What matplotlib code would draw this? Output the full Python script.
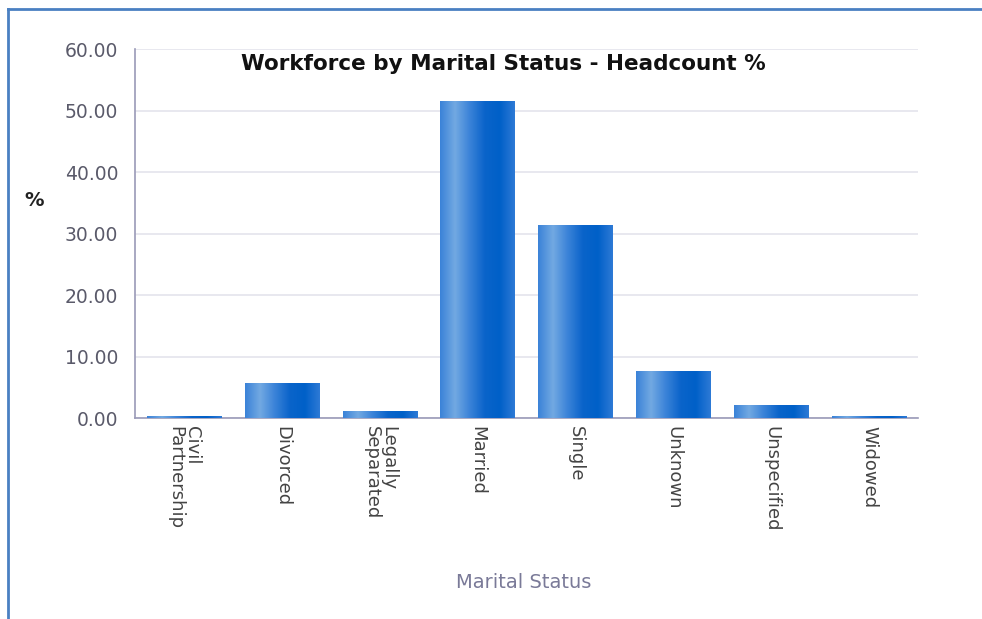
import matplotlib.pyplot as plt
import numpy as np
from matplotlib.colors import LinearSegmentedColormap
from matplotlib.lines import Line2D

# data
categories = ["Civil\nPartnership", "Divorced", "Legally\nSeparated", "Married",
              "Single", "Unknown", "Unspecified", "Widowed"]
headcount_pct = [0.4, 5.7, 1.1, 51.5, 31.4, 7.6, 2.1, 0.4]
yticks = [0, 10, 20, 30, 40, 50, 60]

fig = plt.figure(figsize=(9.82, 6.19), dpi=100)
ax = fig.add_axes([0.1375, 0.3247, 0.7973, 0.5961])

x = np.arange(len(categories))
bars = ax.bar(x, headcount_pct, width=0.76, color="#0a62c9", zorder=2)

# horizontal gradient on each bar
cmap = LinearSegmentedColormap.from_list(
    "bar", ["#3a82d8", "#72a9e2", "#3a82d8", "#0a64ca", "#0060c8", "#2e7ad6"])
grad = np.linspace(0, 1, 256).reshape(1, -1)
for b in bars:
    x0, w, h = b.get_x(), b.get_width(), b.get_height()
    im = ax.imshow(grad, cmap=cmap, aspect="auto", extent=[x0, x0 + w, 0, h],
                   zorder=3, interpolation="bilinear")
    im.set_clip_path(b)

ax.set_xlim(-0.5, len(categories) - 0.5)
ax.set_ylim(0, 60)
ax.set_yticks(yticks)
ax.set_yticklabels([f"{v:.2f}" for v in yticks], fontsize=13.5, color="#5a5a6a")
ax.set_xticks(x)
ax.set_xticklabels(categories, rotation=270, fontsize=13, color="#444444",
                   va="top", ha="center", multialignment="left", linespacing=0.9)
ax.tick_params(length=0, pad=6)
ax.tick_params(axis="y", pad=12)

ax.grid(axis="y", color="#e4e4ec", linewidth=1.2, zorder=0)
ax.set_axisbelow(True)
for s in ["top", "right"]:
    ax.spines[s].set_visible(False)
for s in ["left", "bottom"]:
    ax.spines[s].set_color("#9a9ab8")
    ax.spines[s].set_linewidth(1.2)

fig.text(503 / 982, 1 - 64 / 619, "Workforce by Marital Status - Headcount %",
         ha="center", va="center", fontsize=15.5, fontweight="bold", color="#111111")
fig.text(34 / 982, 1 - 200 / 619, "%", ha="center", va="center",
         fontsize=14, fontweight="bold", color="#222222")
fig.text(524 / 982, 1 - 583 / 619, "Marital Status", ha="center", va="center",
         fontsize=14, color="#7a7a98")

# outer frame (top and left edges)
fig.add_artist(Line2D([8 / 982, 1.0], [1 - 9 / 619, 1 - 9 / 619],
                      transform=fig.transFigure, color="#4a80c2", linewidth=2))
fig.add_artist(Line2D([8 / 982, 8 / 982], [0, 1 - 9 / 619],
                      transform=fig.transFigure, color="#4a80c2", linewidth=2))

fig.savefig("out.png", dpi=100)
